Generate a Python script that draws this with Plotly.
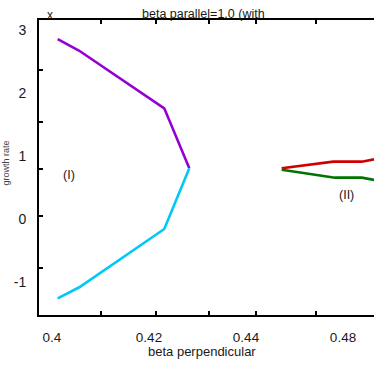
import plotly.graph_objects as go

# --- data ---
purple_x = [0.40118, 0.40563, 0.42315, 0.42831]
purple_y = [2.857, 2.671, 1.757, 0.805]
cyan_x = [0.42831, 0.42315, 0.40563, 0.40118]
cyan_y = [0.805, -0.159, -1.084, -1.259]
red_x = [0.44736, 0.45800, 0.46386, 0.46660]
red_y = [0.805, 0.910, 0.910, 0.950]
green_x = [0.44736, 0.45835, 0.46386, 0.46660]
green_y = [0.783, 0.656, 0.656, 0.617]

x_label_vals = [0.40, 0.42, 0.44, 0.46]
x_label_text = ["0.4", "0.42", "0.44", "0.48"]
y_label_vals = [3, 2, 1, 0, -1]
y_label_text = ["3", "2", "1", "0", "-1"]
x_mark_vals = [0.41010, 0.42144, 0.43237, 0.44206, 0.45443]
y_mark_vals = [2.365, 1.540, 0.794, 0.048, -0.778]

X_RANGE = [0.39732, 0.46639]
Y_RANGE = [-1.524, 3.159]

fig = go.Figure()
line_w = 2.6
fig.add_trace(go.Scatter(x=purple_x, y=purple_y, mode="lines",
                         line=dict(color="#9400D3", width=line_w)))
fig.add_trace(go.Scatter(x=cyan_x, y=cyan_y, mode="lines",
                         line=dict(color="#00C8F8", width=line_w)))
fig.add_trace(go.Scatter(x=red_x, y=red_y, mode="lines",
                         line=dict(color="#D00000", width=line_w)))
fig.add_trace(go.Scatter(x=green_x, y=green_y, mode="lines",
                         line=dict(color="#007400", width=line_w)))
# invisible trace to hold the tick-mark axes
fig.add_trace(go.Scatter(x=[X_RANGE[0]], y=[Y_RANGE[0]], xaxis="x2", yaxis="y2",
                         mode="markers", marker=dict(opacity=0), hoverinfo="skip"))

font = "Liberation Sans, Arial, sans-serif"
txt = "#1a1a1a"
fig.update_layout(
    width=374, height=365,
    margin=dict(l=39, r=0, t=20, b=50),
    paper_bgcolor="white", plot_bgcolor="white",
    showlegend=False,
    font=dict(family=font, color=txt),
    xaxis=dict(range=X_RANGE, tickvals=x_label_vals, ticktext=x_label_text,
               ticks="", showgrid=False, zeroline=False,
               showline=True, linecolor="black", linewidth=2,
               tickfont=dict(size=13.5, color=txt), ticklabelstandoff=9),
    yaxis=dict(range=Y_RANGE, tickvals=y_label_vals, ticktext=y_label_text,
               ticks="", showgrid=False, zeroline=False,
               showline=True, linecolor="black", linewidth=2,
               tickfont=dict(size=14, color=txt), ticklabelstandoff=8),
    xaxis2=dict(range=X_RANGE, overlaying="x", anchor="y2", side="bottom",
                tickvals=x_mark_vals, ticks="inside", ticklen=4, tickwidth=2,
                tickcolor="black", showticklabels=False, showgrid=False,
                zeroline=False, showline=True, linecolor="black", linewidth=2,
                mirror="ticks"),
    yaxis2=dict(range=Y_RANGE, overlaying="y", anchor="x2", side="left",
                tickvals=y_mark_vals, ticks="inside", ticklen=4, tickwidth=2,
                tickcolor="black", showticklabels=False, showgrid=False,
                zeroline=False, showline=True, linecolor="black", linewidth=2),
)

annots = [
    dict(text="beta parallel=1.0 (with", x=0.4925, y=1.022, xref="paper", yref="paper",
         font=dict(size=12.5)),
    dict(text="x", x=0.032, y=1.016, xref="paper", yref="paper", font=dict(size=12)),
    dict(text="beta perpendicular", x=0.4866, y=-0.125, xref="paper", yref="paper",
         font=dict(size=13)),
    dict(text="growth rate", x=-0.097, y=0.515, xref="paper", yref="paper",
         textangle=-90, font=dict(size=9, color="#444")),
    dict(text="(I)", x=0.4035, y=0.698, xref="x", yref="y", font=dict(size=12.5)),
    dict(text="(II)", x=0.46076, y=0.381, xref="x", yref="y", font=dict(size=12.5)),
]
for a in annots:
    a.update(showarrow=False, xanchor="center", yanchor="middle")
    fig.add_annotation(**a)

fig.write_html("out.html", config={"displayModeBar": False},
               post_script="document.body.style.margin='0';document.body.style.overflow='hidden';")
